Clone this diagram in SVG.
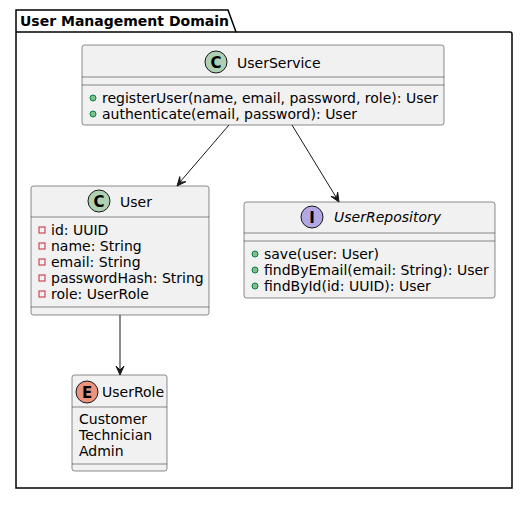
<svg xmlns="http://www.w3.org/2000/svg" width="526" height="505" viewBox="0 0 526 505">
<defs>
<style>
text{font-family:"DejaVu Sans",sans-serif;font-size:14px;fill:#000}
.box{fill:#F1F1F1;stroke:#181818;stroke-width:0.5}
.sep{stroke:#181818;stroke-width:0.5}
.pub{fill:#84BE84;stroke:#038048;stroke-width:1}
.priv{fill:none;stroke:#C82930;stroke-width:1}
.circ{stroke:#181818;stroke-width:1}
.ltr{font-weight:bold;font-size:15px;text-anchor:middle}
.edge{stroke:#181818;stroke-width:1;fill:none}
.head{fill:#181818;stroke:#181818;stroke-width:1}
</style>
</defs>
<g id="package">
<path d="M16,10 L228,10 L236,32 L510,32 Q512,32 512,34 L512,488 L16,488 Z" fill="none" stroke="#000" stroke-width="1.5"/>
<line x1="16" y1="32" x2="236" y2="32" stroke="#000" stroke-width="1.5"/>
<text x="20" y="26" font-weight="bold">User Management Domain</text>
</g>
<g id="UserService">
<rect class="box" x="82" y="45" width="362" height="80" rx="2.5"/>
<circle class="circ" cx="216" cy="62" r="11" fill="#ADD1B2"/>
<text class="ltr" x="216" y="67.5">C</text>
<text x="237" y="68">UserService</text>
<line class="sep" x1="82" y1="77" x2="444" y2="77"/>
<line class="sep" x1="82" y1="85" x2="444" y2="85"/>
<circle class="pub" cx="93" cy="98" r="3"/>
<text x="102" y="103">registerUser(name, email, password, role): User</text>
<circle class="pub" cx="93" cy="114" r="3"/>
<text x="102" y="119">authenticate(email, password): User</text>
</g>
<g id="User">
<rect class="box" x="31" y="186" width="178" height="129" rx="2.5"/>
<circle class="circ" cx="99" cy="201" r="11" fill="#ADD1B2"/>
<text class="ltr" x="99" y="206.5">C</text>
<text x="120" y="207">User</text>
<line class="sep" x1="31" y1="217" x2="209" y2="217"/>
<rect class="priv" x="39" y="227" width="6" height="6"/>
<text x="51" y="235">id: UUID</text>
<rect class="priv" x="39" y="243" width="6" height="6"/>
<text x="51" y="251">name: String</text>
<rect class="priv" x="39" y="259" width="6" height="6"/>
<text x="51" y="267">email: String</text>
<rect class="priv" x="39" y="275" width="6" height="6"/>
<text x="51" y="283">passwordHash: String</text>
<rect class="priv" x="39" y="291" width="6" height="6"/>
<text x="51" y="299">role: UserRole</text>
<line class="sep" x1="31" y1="307" x2="209" y2="307"/>
</g>
<g id="UserRepository">
<rect class="box" x="244" y="202" width="251" height="96" rx="2.5"/>
<circle class="circ" cx="312" cy="217" r="11" fill="#B4A7E5"/>
<text class="ltr" x="312" y="222.5">I</text>
<text x="334" y="222" font-style="italic">UserRepository</text>
<line class="sep" x1="244" y1="233" x2="495" y2="233"/>
<line class="sep" x1="244" y1="241" x2="495" y2="241"/>
<circle class="pub" cx="255" cy="254" r="3"/>
<text x="264" y="259">save(user: User)</text>
<circle class="pub" cx="255" cy="270" r="3"/>
<text x="264" y="275">findByEmail(email: String): User</text>
<circle class="pub" cx="255" cy="286" r="3"/>
<text x="264" y="291">findById(id: UUID): User</text>
</g>
<g id="UserRole">
<rect class="box" x="72" y="375" width="95" height="96" rx="2.5"/>
<circle class="circ" cx="87" cy="392" r="11" fill="#EB937F"/>
<text class="ltr" x="87" y="397.5">E</text>
<text x="102" y="397">UserRole</text>
<line class="sep" x1="72" y1="407" x2="167" y2="407"/>
<text x="79" y="424">Customer</text>
<text x="79" y="440">Technician</text>
<text x="79" y="456">Admin</text>
<line class="sep" x1="72" y1="464" x2="167" y2="464"/>
</g>
<g id="connectors">
<line class="edge" x1="229" y1="125" x2="180" y2="182"/>
<polygon class="head" points="177,186 179.8,176.6 180.2,182.2 185.9,181.7"/>
<line class="edge" x1="292" y1="125" x2="336.4" y2="197.7"/>
<polygon class="head" points="339,202 330.9,196.4 336.4,197.7 337.7,192.2"/>
<line class="edge" x1="120" y1="315" x2="120" y2="370"/>
<polygon class="head" points="120,375 116,366 120,370 124,366"/>
</g>
</svg>
